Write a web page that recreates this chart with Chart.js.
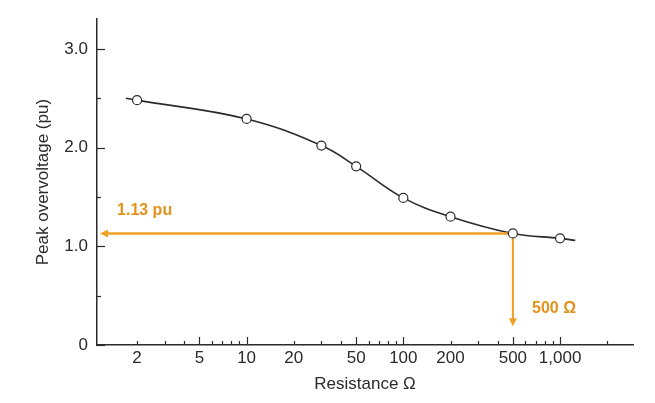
<!DOCTYPE html>
<html>
<head>
<meta charset="utf-8">
<title>Peak overvoltage vs resistance</title>
<script src="https://cdn.jsdelivr.net/npm/chart.js@4.4.0/dist/chart.umd.min.js"></script>
<style>
  html, body { margin: 0; padding: 0; background: #fff; }
</style>
</head>
<body>
<canvas id="surgeChart" width="655" height="403"></canvas>
<script>
// measured points (open circles)
const resistance = [2, 10, 30, 50, 100, 200, 500, 1000];
const peakOvervoltage = [2.48, 2.29, 2.02, 1.81, 1.49, 1.30, 1.13, 1.08];

// the drawn curve runs a little past the first and last points
const curveResistance = [1.7, 2, 10, 30, 50, 100, 200, 500, 1000, 1250];
const curveVoltage = [2.50, 2.48, 2.29, 2.02, 1.81, 1.49, 1.30, 1.13, 1.08, 1.06];

// orange read-off at 500 ohm
const markResistance = 500;
const markVoltage = 1.13;
const arrowLeftEnd = 1.16;   // resistance where the left arrow stops
const arrowBottomEnd = 0.19; // voltage where the down arrow stops
const markLabelV = '1.13 pu';
const markLabelR = '500 \u03A9';
const markLabelVPos = [1.49, 1.36];
const markLabelRPos = [662, 0.37];

// axes
const xTickValues = [2, 5, 10, 20, 50, 100, 200, 500, 1000];
const xTickLabels = ['2', '5', '10', '20', '50', '100', '200', '500', '1,000'];
const xMinorTicks = [2, 3, 4, 5, 6, 7, 8, 9, 10, 20, 30, 40, 50, 60, 70, 80, 90,
                     100, 200, 300, 400, 500, 600, 700, 800, 900, 1000, 2000];
const xLongTicks = [5, 10, 50, 100, 500, 1000];
const yTickValues = [0, 1, 2, 3];
const yTickLabels = ['0', '1.0', '2.0', '3.0'];
const yMinorTicks = [0.5, 1.5, 2.5];

const ORANGE = '#f0a024';
const ORANGE_TEXT = '#e3921c';
const INK = '#2b2b2b';
const FONT = "'Liberation Sans', Arial, Helvetica, sans-serif";

const axisExtras = {
    id: 'axisExtras',
    afterDraw(chart) {
        const ctx = chart.ctx;
        const xs = chart.scales.x;
        const ys = chart.scales.y;
        const area = chart.chartArea;
        ctx.save();
        ctx.strokeStyle = INK;
        ctx.lineWidth = 1.2;

        // x ticks point up into the plot
        xMinorTicks.forEach(v => {
            const px = Math.round(xs.getPixelForValue(v)) + 0.5;
            const len = xLongTicks.includes(v) ? 8 : 4;
            ctx.beginPath();
            ctx.moveTo(px, area.bottom);
            ctx.lineTo(px, area.bottom - len);
            ctx.stroke();
        });

        // y ticks point right into the plot
        yTickValues.concat(yMinorTicks).forEach(v => {
            const py = Math.round(ys.getPixelForValue(v)) + 0.5;
            const len = yMinorTicks.includes(v) ? 4 : 8;
            ctx.beginPath();
            ctx.moveTo(area.left, py);
            ctx.lineTo(area.left + len, py);
            ctx.stroke();
        });

        // arrow heads
        ctx.fillStyle = ORANGE;
        const lx = xs.getPixelForValue(arrowLeftEnd);
        const ly = ys.getPixelForValue(markVoltage);
        ctx.beginPath();
        ctx.moveTo(lx, ly);
        ctx.lineTo(lx + 8, ly - 4);
        ctx.lineTo(lx + 8, ly + 4);
        ctx.closePath();
        ctx.fill();

        const dx = xs.getPixelForValue(markResistance);
        const dy = ys.getPixelForValue(arrowBottomEnd);
        ctx.beginPath();
        ctx.moveTo(dx, dy);
        ctx.lineTo(dx - 4, dy - 8);
        ctx.lineTo(dx + 4, dy - 8);
        ctx.closePath();
        ctx.fill();

        // read-off labels
        ctx.fillStyle = ORANGE_TEXT;
        ctx.font = 'bold 16px ' + FONT;
        ctx.textAlign = 'left';
        ctx.textBaseline = 'middle';
        ctx.fillText(markLabelV, xs.getPixelForValue(markLabelVPos[0]), ys.getPixelForValue(markLabelVPos[1]));
        ctx.fillText(markLabelR, xs.getPixelForValue(markLabelRPos[0]), ys.getPixelForValue(markLabelRPos[1]));
        ctx.restore();
    }
};

function drawChart() {
    const ctx = document.getElementById('surgeChart').getContext('2d');
    new Chart(ctx, {
        type: 'line',
        data: {
            datasets: [{
                label: 'points',
                data: resistance.map((r, i) => ({ x: r, y: peakOvervoltage[i] })),
                showLine: false,
                pointRadius: 4.5,
                pointBackgroundColor: '#fff',
                pointBorderColor: INK,
                pointBorderWidth: 1.2,
                order: 0
            }, {
                label: 'curve',
                data: curveResistance.map((r, i) => ({ x: r, y: curveVoltage[i] })),
                borderColor: INK,
                borderWidth: 1.6,
                pointRadius: 0,
                tension: 0.4,
                order: 2
            }, {
                label: 'readV',
                data: [{ x: markResistance, y: markVoltage }, { x: arrowLeftEnd + 0.06, y: markVoltage }],
                borderColor: ORANGE,
                borderWidth: 2.5,
                pointRadius: 0,
                order: 1
            }, {
                label: 'readR',
                data: [{ x: markResistance, y: markVoltage }, { x: markResistance, y: arrowBottomEnd + 0.06 }],
                borderColor: ORANGE,
                borderWidth: 2,
                pointRadius: 0,
                order: 1
            }]
        },
        options: {
            responsive: false,
            animation: false,
            layout: { padding: { left: 0, right: 22, top: 16, bottom: 0 } },
            plugins: {
                legend: { display: false },
                tooltip: { enabled: false }
            },
            scales: {
                x: {
                    type: 'logarithmic',
                    min: 1.11,
                    max: 2920,
                    afterBuildTicks: scale => {
                        scale.ticks = xTickValues.map(v => ({ value: v }));
                    },
                    afterFit: scale => { scale.height = 58; },
                    grid: { display: false, drawTicks: false },
                    border: { display: true, color: INK, width: 1.5 },
                    ticks: {
                        autoSkip: false,
                        maxRotation: 0,
                        padding: 3,
                        color: '#2a2a2a',
                        font: { family: FONT, size: 17 },
                        callback: (value, i) => xTickLabels[i]
                    },
                    title: {
                        display: true,
                        text: 'Resistance \u03A9',
                        color: '#2a2a2a',
                        font: { family: FONT, size: 17 },
                        padding: { top: 0, bottom: 8 }
                    }
                },
                y: {
                    min: 0,
                    max: 3.3,
                    afterBuildTicks: scale => {
                        scale.ticks = yTickValues.map(v => ({ value: v }));
                    },
                    afterFit: scale => { scale.width = 97; },
                    grid: { display: false, drawTicks: false },
                    border: { display: true, color: INK, width: 1.5 },
                    ticks: {
                        padding: 9,
                        color: '#2a2a2a',
                        font: { family: FONT, size: 17 },
                        callback: (value, i) => yTickLabels[i]
                    },
                    title: {
                        display: true,
                        text: 'Peak overvoltage (pu)',
                        color: '#2a2a2a',
                        font: { family: FONT, size: 17 },
                        padding: { top: 33, bottom: 0 }
                    }
                }
            }
        },
        plugins: [axisExtras]
    });
}

drawChart();
</script>
</body>
</html>
